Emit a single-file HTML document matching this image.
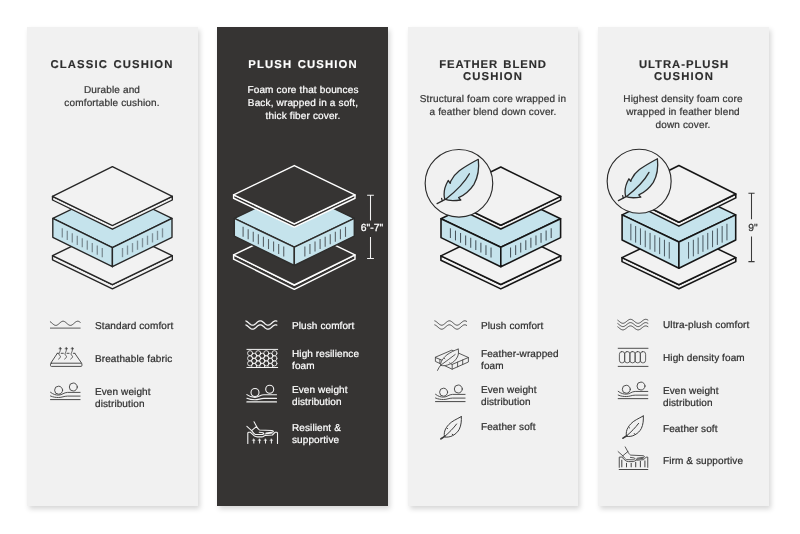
<!DOCTYPE html>
<html><head><meta charset="utf-8"><title>Cushion comparison</title>
<style>
html,body{margin:0;padding:0;background:#fff;}
body{width:800px;height:534px;position:relative;overflow:hidden;text-rendering:geometricPrecision;font-family:"Liberation Sans",sans-serif;}
.panel{position:absolute;box-shadow:2px 3px 5px rgba(0,0,0,0.16);}
.t{position:absolute;white-space:nowrap;font-size:11.3px;font-weight:bold;letter-spacing:1.15px;word-spacing:1.1px;line-height:12.4px;color:#2d2d2d;text-align:center;transform:translateX(-50%);}
.d{position:absolute;white-space:nowrap;font-size:10px;letter-spacing:0.15px;line-height:12.8px;color:#363636;text-align:center;transform:translateX(-50%);}
.f{position:absolute;white-space:nowrap;font-size:10px;letter-spacing:0.1px;line-height:12px;color:#2e2e2e;}
.w{color:#fff !important;}
.t,.d,.f{will-change:transform;}
.d,.f{-webkit-text-stroke:0.22px currentColor;}
.t{-webkit-text-stroke:0.15px currentColor;}
svg{position:absolute;left:0;top:0;}

</style></head><body>
<div class="panel" style="left:27.3px;top:27.3px;width:170.8px;height:478.7px;background:#f1f1f1"></div>
<div class="panel" style="left:217.3px;top:27.3px;width:170.7px;height:478.9px;background:#363433"></div>
<div class="panel" style="left:407.6px;top:27.3px;width:170.6px;height:478.7px;background:#f1f1f1"></div>
<div class="panel" style="left:597.6px;top:27.3px;width:171.4px;height:478.7px;background:#f1f1f1"></div>
<svg width="800" height="534" viewBox="0 0 800 534" fill="none" stroke-linejoin="round" stroke-linecap="round">
<path d="M52.50000000000001 255.7 L52.50000000000001 259.8 L112.4 288.8 L172.3 259.8 L172.3 255.7 L112.4 284.7 Z" fill="#f2f2f2" stroke="#262626" stroke-width="1.38"/>
<path d="M112.4 226.7 L172.3 255.7 L112.4 284.7 L52.50000000000001 255.7 Z" fill="#f2f2f2" stroke="#262626" stroke-width="1.38"/>
<path d="M112.4 189.5 L172.0 218.4 L112.4 247.7 L52.800000000000004 218.4 Z" fill="#c5e3ec" stroke="#262626" stroke-width="1.38"/>
<path d="M52.800000000000004 218.4 L112.4 247.7 L112.4 266.7 L52.800000000000004 237.3 Z" fill="#c5e3ec" stroke="#262626" stroke-width="1.38"/>
<path d="M172.0 218.4 L112.4 247.7 L112.4 266.7 L172.0 237.3 Z" fill="#c5e3ec" stroke="#262626" stroke-width="1.38"/>
<path d="M62.30 228.32 V237.52" stroke="#7f9199" stroke-width="1.35" stroke-linecap="butt"/>
<path d="M162.50 228.32 V237.52" stroke="#7f9199" stroke-width="1.35" stroke-linecap="butt"/>
<path d="M67.30 230.78 V239.98" stroke="#7f9199" stroke-width="1.35" stroke-linecap="butt"/>
<path d="M157.50 230.78 V239.98" stroke="#7f9199" stroke-width="1.35" stroke-linecap="butt"/>
<path d="M72.30 233.24 V242.44" stroke="#7f9199" stroke-width="1.35" stroke-linecap="butt"/>
<path d="M152.50 233.24 V242.44" stroke="#7f9199" stroke-width="1.35" stroke-linecap="butt"/>
<path d="M77.30 235.69 V244.89" stroke="#7f9199" stroke-width="1.35" stroke-linecap="butt"/>
<path d="M147.50 235.69 V244.89" stroke="#7f9199" stroke-width="1.35" stroke-linecap="butt"/>
<path d="M82.30 238.15 V247.35" stroke="#7f9199" stroke-width="1.35" stroke-linecap="butt"/>
<path d="M142.50 238.15 V247.35" stroke="#7f9199" stroke-width="1.35" stroke-linecap="butt"/>
<path d="M87.30 240.61 V249.81" stroke="#7f9199" stroke-width="1.35" stroke-linecap="butt"/>
<path d="M137.50 240.61 V249.81" stroke="#7f9199" stroke-width="1.35" stroke-linecap="butt"/>
<path d="M92.30 243.07 V252.27" stroke="#7f9199" stroke-width="1.35" stroke-linecap="butt"/>
<path d="M132.50 243.07 V252.27" stroke="#7f9199" stroke-width="1.35" stroke-linecap="butt"/>
<path d="M97.30 245.53 V254.73" stroke="#7f9199" stroke-width="1.35" stroke-linecap="butt"/>
<path d="M127.50 245.53 V254.73" stroke="#7f9199" stroke-width="1.35" stroke-linecap="butt"/>
<path d="M102.30 247.98 V257.18" stroke="#7f9199" stroke-width="1.35" stroke-linecap="butt"/>
<path d="M122.50 247.98 V257.18" stroke="#7f9199" stroke-width="1.35" stroke-linecap="butt"/>
<path d="M52.50000000000001 196.3 L52.50000000000001 200.0 L112.4 229.2 L172.3 200.0 L172.3 196.3 L112.4 225.5 Z" fill="#f2f2f2" stroke="#262626" stroke-width="1.38"/>
<path d="M112.4 166.7 L172.3 196.3 L112.4 225.5 L52.50000000000001 196.3 Z" fill="#f2f2f2" stroke="#262626" stroke-width="1.38"/>
<path d="M233.60000000000002 254.9 L233.60000000000002 259.2 L294.3 289.3 L355.0 259.2 L355.0 254.9 L294.3 285.0 Z" fill="#363433" stroke="#ffffff" stroke-width="1.45"/>
<path d="M294.3 225.6 L355.0 254.9 L294.3 285.0 L233.60000000000002 254.9 Z" fill="#363433" stroke="#ffffff" stroke-width="1.45"/>
<path d="M294.3 189.6 L354.3 218.4 L294.3 247.2 L234.3 218.4 Z" fill="#c5e3ec" stroke="#2e2d2c" stroke-width="1.45"/>
<path d="M234.3 218.4 L294.3 247.2 L294.3 265.5 L234.3 236.1 Z" fill="#c5e3ec" stroke="#2e2d2c" stroke-width="1.45"/>
<path d="M354.3 218.4 L294.3 247.2 L294.3 265.5 L354.3 236.1 Z" fill="#c5e3ec" stroke="#2e2d2c" stroke-width="1.45"/>
<path d="M243.10 226.87 V236.87" stroke="#596267" stroke-width="1.1" stroke-linecap="butt"/>
<path d="M345.50 226.87 V236.87" stroke="#596267" stroke-width="1.1" stroke-linecap="butt"/>
<path d="M248.18 229.31 V239.31" stroke="#596267" stroke-width="1.1" stroke-linecap="butt"/>
<path d="M340.42 229.31 V239.31" stroke="#596267" stroke-width="1.1" stroke-linecap="butt"/>
<path d="M253.26 231.75 V241.75" stroke="#596267" stroke-width="1.1" stroke-linecap="butt"/>
<path d="M335.34 231.75 V241.75" stroke="#596267" stroke-width="1.1" stroke-linecap="butt"/>
<path d="M258.34 234.19 V244.19" stroke="#596267" stroke-width="1.1" stroke-linecap="butt"/>
<path d="M330.26 234.19 V244.19" stroke="#596267" stroke-width="1.1" stroke-linecap="butt"/>
<path d="M263.42 236.63 V246.63" stroke="#596267" stroke-width="1.1" stroke-linecap="butt"/>
<path d="M325.18 236.63 V246.63" stroke="#596267" stroke-width="1.1" stroke-linecap="butt"/>
<path d="M268.50 239.07 V249.07" stroke="#596267" stroke-width="1.1" stroke-linecap="butt"/>
<path d="M320.10 239.07 V249.07" stroke="#596267" stroke-width="1.1" stroke-linecap="butt"/>
<path d="M273.58 241.50 V251.50" stroke="#596267" stroke-width="1.1" stroke-linecap="butt"/>
<path d="M315.02 241.50 V251.50" stroke="#596267" stroke-width="1.1" stroke-linecap="butt"/>
<path d="M278.66 243.94 V253.94" stroke="#596267" stroke-width="1.1" stroke-linecap="butt"/>
<path d="M309.94 243.94 V253.94" stroke="#596267" stroke-width="1.1" stroke-linecap="butt"/>
<path d="M283.74 246.38 V256.38" stroke="#596267" stroke-width="1.1" stroke-linecap="butt"/>
<path d="M304.86 246.38 V256.38" stroke="#596267" stroke-width="1.1" stroke-linecap="butt"/>
<path d="M233.60000000000002 194.85 L233.60000000000002 198.25 L294.3 227.20000000000002 L355.0 198.25 L355.0 194.85 L294.3 223.8 Z" fill="#363433" stroke="#ffffff" stroke-width="1.45"/>
<path d="M294.3 165.6 L355.0 194.85 L294.3 223.8 L233.60000000000002 194.85 Z" fill="#363433" stroke="#ffffff" stroke-width="1.45"/>
<path d="M440.90000000000003 255.85 L440.90000000000003 260.25 L500.8 288.9 L560.7 260.25 L560.7 255.85 L500.8 284.5 Z" fill="#f2f2f2" stroke="#161616" stroke-width="1.58"/>
<path d="M500.8 226.7 L560.7 255.85 L500.8 284.5 L440.90000000000003 255.85 Z" fill="#f2f2f2" stroke="#161616" stroke-width="1.58"/>
<path d="M500.8 189.9 L560.6 218.7 L500.8 247.3 L441.0 218.7 Z" fill="#c5e3ec" stroke="#161616" stroke-width="1.58"/>
<path d="M441.0 218.7 L500.8 247.3 L500.8 266.8 L441.0 237.6 Z" fill="#c5e3ec" stroke="#161616" stroke-width="1.58"/>
<path d="M560.6 218.7 L500.8 247.3 L500.8 266.8 L560.6 237.6 Z" fill="#c5e3ec" stroke="#161616" stroke-width="1.58"/>
<path d="M450.40 228.15 V237.95" stroke="#46535b" stroke-width="1.05" stroke-linecap="butt"/>
<path d="M551.20 228.15 V237.95" stroke="#46535b" stroke-width="1.05" stroke-linecap="butt"/>
<path d="M455.48 230.58 V240.38" stroke="#46535b" stroke-width="1.05" stroke-linecap="butt"/>
<path d="M546.12 230.58 V240.38" stroke="#46535b" stroke-width="1.05" stroke-linecap="butt"/>
<path d="M460.56 233.00 V242.80" stroke="#46535b" stroke-width="1.05" stroke-linecap="butt"/>
<path d="M541.04 233.00 V242.80" stroke="#46535b" stroke-width="1.05" stroke-linecap="butt"/>
<path d="M465.64 235.43 V245.23" stroke="#46535b" stroke-width="1.05" stroke-linecap="butt"/>
<path d="M535.96 235.43 V245.23" stroke="#46535b" stroke-width="1.05" stroke-linecap="butt"/>
<path d="M470.72 237.86 V247.66" stroke="#46535b" stroke-width="1.05" stroke-linecap="butt"/>
<path d="M530.88 237.86 V247.66" stroke="#46535b" stroke-width="1.05" stroke-linecap="butt"/>
<path d="M475.80 240.29 V250.09" stroke="#46535b" stroke-width="1.05" stroke-linecap="butt"/>
<path d="M525.80 240.29 V250.09" stroke="#46535b" stroke-width="1.05" stroke-linecap="butt"/>
<path d="M480.88 242.72 V252.52" stroke="#46535b" stroke-width="1.05" stroke-linecap="butt"/>
<path d="M520.72 242.72 V252.52" stroke="#46535b" stroke-width="1.05" stroke-linecap="butt"/>
<path d="M485.96 245.15 V254.95" stroke="#46535b" stroke-width="1.05" stroke-linecap="butt"/>
<path d="M515.64 245.15 V254.95" stroke="#46535b" stroke-width="1.05" stroke-linecap="butt"/>
<path d="M491.04 247.58 V257.38" stroke="#46535b" stroke-width="1.05" stroke-linecap="butt"/>
<path d="M510.56 247.58 V257.38" stroke="#46535b" stroke-width="1.05" stroke-linecap="butt"/>
<path d="M440.90000000000003 196.4 L440.90000000000003 200.1 L500.8 229.0 L560.7 200.1 L560.7 196.4 L500.8 225.3 Z" fill="#f2f2f2" stroke="#161616" stroke-width="1.58"/>
<path d="M500.8 167.0 L560.7 196.4 L500.8 225.3 L440.90000000000003 196.4 Z" fill="#f2f2f2" stroke="#161616" stroke-width="1.58"/>
<path d="M622.0 257.6 L622.0 261.6 L678.9 288.8 L735.8 261.6 L735.8 257.6 L678.9 284.8 Z" fill="#f2f2f2" stroke="#161616" stroke-width="1.58"/>
<path d="M678.9 230.4 L735.8 257.6 L678.9 284.8 L622.0 257.6 Z" fill="#f2f2f2" stroke="#161616" stroke-width="1.58"/>
<path d="M678.9 187.5 L735.6999999999999 214.9 L678.9 242.0 L622.1 214.9 Z" fill="#c5e3ec" stroke="#161616" stroke-width="1.58"/>
<path d="M622.1 214.9 L678.9 242.0 L678.9 268.3 L622.1 240.05 Z" fill="#c5e3ec" stroke="#161616" stroke-width="1.58"/>
<path d="M735.6999999999999 214.9 L678.9 242.0 L678.9 268.3 L735.6999999999999 240.05 Z" fill="#c5e3ec" stroke="#161616" stroke-width="1.58"/>
<path d="M630.85 223.75 V240.35" stroke="#4a5860" stroke-width="1.0" stroke-linecap="butt"/>
<path d="M726.95 223.75 V240.35" stroke="#4a5860" stroke-width="1.0" stroke-linecap="butt"/>
<path d="M635.65 226.04 V242.64" stroke="#4a5860" stroke-width="1.0" stroke-linecap="butt"/>
<path d="M722.15 226.04 V242.64" stroke="#4a5860" stroke-width="1.0" stroke-linecap="butt"/>
<path d="M640.45 228.33 V244.93" stroke="#4a5860" stroke-width="1.0" stroke-linecap="butt"/>
<path d="M717.35 228.33 V244.93" stroke="#4a5860" stroke-width="1.0" stroke-linecap="butt"/>
<path d="M645.25 230.62 V247.22" stroke="#4a5860" stroke-width="1.0" stroke-linecap="butt"/>
<path d="M712.55 230.62 V247.22" stroke="#4a5860" stroke-width="1.0" stroke-linecap="butt"/>
<path d="M650.05 232.91 V249.51" stroke="#4a5860" stroke-width="1.0" stroke-linecap="butt"/>
<path d="M707.75 232.91 V249.51" stroke="#4a5860" stroke-width="1.0" stroke-linecap="butt"/>
<path d="M654.85 235.20 V251.80" stroke="#4a5860" stroke-width="1.0" stroke-linecap="butt"/>
<path d="M702.95 235.20 V251.80" stroke="#4a5860" stroke-width="1.0" stroke-linecap="butt"/>
<path d="M659.65 237.49 V254.09" stroke="#4a5860" stroke-width="1.0" stroke-linecap="butt"/>
<path d="M698.15 237.49 V254.09" stroke="#4a5860" stroke-width="1.0" stroke-linecap="butt"/>
<path d="M664.45 239.78 V256.38" stroke="#4a5860" stroke-width="1.0" stroke-linecap="butt"/>
<path d="M693.35 239.78 V256.38" stroke="#4a5860" stroke-width="1.0" stroke-linecap="butt"/>
<path d="M669.25 242.07 V258.67" stroke="#4a5860" stroke-width="1.0" stroke-linecap="butt"/>
<path d="M688.55 242.07 V258.67" stroke="#4a5860" stroke-width="1.0" stroke-linecap="butt"/>
<path d="M622.0 194.0 L622.0 197.9 L678.9 226.1 L735.8 197.9 L735.8 194.0 L678.9 222.2 Z" fill="#f2f2f2" stroke="#161616" stroke-width="1.58"/>
<path d="M678.9 165.5 L735.8 194.0 L678.9 222.2 L622.0 194.0 Z" fill="#f2f2f2" stroke="#161616" stroke-width="1.58"/>
<circle cx="458.95" cy="183.3" r="33.8" fill="#f1f1f1" stroke="#2b2b2b" stroke-width="1.15"/>
<path d="M478.30 159.30 C474.00 161.60 466.00 166.00 459.30 170.70 C455.50 173.60 452.50 177.50 450.70 181.30 L450.20 183.30 L448.20 180.50 C445.60 185.00 444.00 190.50 444.10 194.50 C444.10 196.00 444.30 197.50 444.80 199.20 C448.00 200.80 453.00 201.00 460.80 200.00 L458.60 197.60 C464.50 195.00 470.50 189.50 474.00 184.30 C477.50 178.00 479.30 168.00 478.30 159.30 Z" fill="#c5e3ec" stroke="#2b2b2b" stroke-width="1.3"/>
<path d="M469.40 173.70 C466.00 180.00 458.00 189.50 445.70 199.20 L437.10 203.60 M441.60 198.30 L442.30 201.20" stroke="#2b2b2b" stroke-width="1.3"/>
<circle cx="639.15" cy="181.25" r="32.0" fill="#f1f1f1" stroke="#2b2b2b" stroke-width="1.15"/>
<path d="M657.40 158.70 C653.33 160.88 645.76 165.04 639.43 169.48 C635.83 172.23 632.99 175.92 631.29 179.51 L630.82 181.40 L628.93 178.76 C626.47 183.01 624.95 188.22 625.05 192.00 C625.05 193.42 625.24 194.84 625.71 196.45 C628.74 197.96 633.47 198.15 640.85 197.20 L638.76 194.93 C644.35 192.47 650.02 187.27 653.33 182.35 C656.64 176.39 658.35 166.93 657.40 158.70 Z" fill="#c5e3ec" stroke="#2b2b2b" stroke-width="1.3"/>
<path d="M648.98 172.32 C645.76 178.28 638.20 187.27 626.56 196.45 L618.42 200.61 M622.68 195.59 L623.34 198.34" stroke="#2b2b2b" stroke-width="1.3"/>
<path d="M367.1 195.2 H373.9 M367.1 258.4 H373.9 M370.5 195.2 V220.4 M370.5 237.0 V258.4" stroke="#f2f2f2" stroke-width="1.05" stroke-linecap="butt"/>
<path d="M748.4 193.2 H754.6 M748.4 261.6 H754.6 M751.5 193.2 V219.2 M751.5 236.5 V261.6" stroke="#3a3a3a" stroke-width="1.05" stroke-linecap="butt"/>
<defs><clipPath id="hc"><rect x="246.9" y="349.9" width="30.8" height="17.1"/></clipPath></defs>
<path d="M50.30 321.80 L51.05 322.34 L51.79 322.98 L52.54 323.65 L53.29 324.29 L54.04 324.82 L54.78 325.20 L55.53 325.39 L56.28 325.36 L57.03 325.11 L57.77 324.69 L58.52 324.12 L59.27 323.46 L60.02 322.79 L60.77 322.17 L61.51 321.67 L62.26 321.34 L63.01 321.20 L63.75 321.28 L64.50 321.57 L65.25 322.04 L66.00 322.63 L66.75 323.30 L67.49 323.96 L68.24 324.56 L68.99 325.02 L69.73 325.31 L70.48 325.40 L71.23 325.27 L71.98 324.93 L72.72 324.43 L73.47 323.82 L74.22 323.15 L74.97 322.49 L75.72 321.92 L76.46 321.49 L77.21 321.25 L77.96 321.21 L78.71 321.39 L79.45 321.77 L80.20 322.30" stroke="#474747" stroke-width="0.95"/>
<path d="M50.4 328.1 H80.2" stroke="#474747" stroke-width="0.9"/>
<path d="M245.90 320.98 L246.67 321.35 L247.44 321.88 L248.22 322.53 L248.99 323.22 L249.76 323.88 L250.53 324.46 L251.31 324.90 L252.08 325.15 L252.85 325.19 L253.62 325.01 L254.40 324.63 L255.17 324.10 L255.94 323.45 L256.72 322.76 L257.49 322.10 L258.26 321.52 L259.03 321.09 L259.81 320.84 L260.58 320.81 L261.35 321.00 L262.12 321.38 L262.89 321.92 L263.67 322.57 L264.44 323.26 L265.21 323.92 L265.99 324.50 L266.76 324.92 L267.53 325.16 L268.30 325.18 L269.07 324.99 L269.85 324.60 L270.62 324.06 L271.39 323.41 L272.17 322.72 L272.94 322.06 L273.71 321.49 L274.48 321.07 L275.25 320.84 L276.03 320.82 L276.80 321.02" stroke="#f4f4f4" stroke-width="1.3"/>
<path d="M245.90 324.98 L246.67 325.35 L247.44 325.88 L248.22 326.53 L248.99 327.22 L249.76 327.88 L250.53 328.46 L251.31 328.90 L252.08 329.15 L252.85 329.19 L253.62 329.01 L254.40 328.63 L255.17 328.10 L255.94 327.45 L256.72 326.76 L257.49 326.10 L258.26 325.52 L259.03 325.09 L259.81 324.84 L260.58 324.81 L261.35 325.00 L262.12 325.38 L262.89 325.92 L263.67 326.57 L264.44 327.26 L265.21 327.92 L265.99 328.50 L266.76 328.92 L267.53 329.16 L268.30 329.18 L269.07 328.99 L269.85 328.60 L270.62 328.06 L271.39 327.41 L272.17 326.72 L272.94 326.06 L273.71 325.49 L274.48 325.07 L275.25 324.84 L276.03 324.82 L276.80 325.02" stroke="#f4f4f4" stroke-width="1.3"/>
<path d="M434.80 320.92 L435.60 321.25 L436.39 321.77 L437.19 322.41 L437.98 323.12 L438.78 323.81 L439.57 324.42 L440.37 324.88 L441.16 325.15 L441.96 325.19 L442.75 325.00 L443.55 324.61 L444.34 324.04 L445.13 323.37 L445.93 322.66 L446.73 321.99 L447.52 321.42 L448.31 321.01 L449.11 320.82 L449.91 320.85 L450.70 321.10 L451.50 321.56 L452.29 322.16 L453.09 322.85 L453.88 323.56 L454.68 324.21 L455.47 324.73 L456.27 325.07 L457.06 325.20 L457.86 325.10 L458.65 324.77 L459.45 324.27 L460.24 323.63 L461.04 322.92 L461.83 322.23 L462.62 321.61 L463.42 321.14 L464.22 320.86 L465.01 320.81 L465.81 320.98 L466.60 321.37" stroke="#474747" stroke-width="0.95"/>
<path d="M434.80 324.92 L435.60 325.25 L436.39 325.77 L437.19 326.41 L437.98 327.12 L438.78 327.81 L439.57 328.42 L440.37 328.88 L441.16 329.15 L441.96 329.19 L442.75 329.00 L443.55 328.61 L444.34 328.04 L445.13 327.37 L445.93 326.66 L446.73 325.99 L447.52 325.42 L448.31 325.01 L449.11 324.82 L449.91 324.85 L450.70 325.10 L451.50 325.56 L452.29 326.16 L453.09 326.85 L453.88 327.56 L454.68 328.21 L455.47 328.73 L456.27 329.07 L457.06 329.20 L457.86 329.10 L458.65 328.77 L459.45 328.27 L460.24 327.63 L461.04 326.92 L461.83 326.23 L462.62 325.61 L463.42 325.14 L464.22 324.86 L465.01 324.81 L465.81 324.98 L466.60 325.37" stroke="#474747" stroke-width="0.95"/>
<path d="M617.80 320.28 L618.55 320.85 L619.30 321.47 L620.06 322.07 L620.81 322.60 L621.56 323.00 L622.31 323.24 L623.07 323.30 L623.82 323.16 L624.57 322.84 L625.32 322.38 L626.08 321.81 L626.83 321.19 L627.58 320.59 L628.33 320.05 L629.09 319.63 L629.84 319.37 L630.59 319.30 L631.34 319.42 L632.10 319.72 L632.85 320.17 L633.60 320.73 L634.36 321.35 L635.11 321.96 L635.86 322.50 L636.61 322.93 L637.37 323.21 L638.12 323.30 L638.87 323.20 L639.62 322.92 L640.38 322.48 L641.13 321.93 L641.88 321.32 L642.63 320.70 L643.38 320.15 L644.14 319.70 L644.89 319.41 L645.64 319.30 L646.39 319.38 L647.15 319.65 L647.90 320.07" stroke="#474747" stroke-width="0.95"/>
<path d="M617.80 323.58 L618.55 324.15 L619.30 324.77 L620.06 325.37 L620.81 325.90 L621.56 326.30 L622.31 326.54 L623.07 326.60 L623.82 326.46 L624.57 326.14 L625.32 325.68 L626.08 325.11 L626.83 324.49 L627.58 323.89 L628.33 323.35 L629.09 322.93 L629.84 322.67 L630.59 322.60 L631.34 322.72 L632.10 323.02 L632.85 323.47 L633.60 324.03 L634.36 324.65 L635.11 325.26 L635.86 325.80 L636.61 326.23 L637.37 326.51 L638.12 326.60 L638.87 326.50 L639.62 326.22 L640.38 325.78 L641.13 325.23 L641.88 324.62 L642.63 324.00 L643.38 323.45 L644.14 323.00 L644.89 322.71 L645.64 322.60 L646.39 322.68 L647.15 322.95 L647.90 323.37" stroke="#474747" stroke-width="0.95"/>
<path d="M617.80 326.88 L618.55 327.45 L619.30 328.07 L620.06 328.67 L620.81 329.20 L621.56 329.60 L622.31 329.84 L623.07 329.90 L623.82 329.76 L624.57 329.44 L625.32 328.98 L626.08 328.41 L626.83 327.79 L627.58 327.19 L628.33 326.65 L629.09 326.23 L629.84 325.97 L630.59 325.90 L631.34 326.02 L632.10 326.32 L632.85 326.77 L633.60 327.33 L634.36 327.95 L635.11 328.56 L635.86 329.10 L636.61 329.53 L637.37 329.81 L638.12 329.90 L638.87 329.80 L639.62 329.52 L640.38 329.08 L641.13 328.53 L641.88 327.92 L642.63 327.30 L643.38 326.75 L644.14 326.30 L644.89 326.01 L645.64 325.90 L646.39 325.98 L647.15 326.25 L647.90 326.67" stroke="#474747" stroke-width="0.95"/>
<path d="M57.3 353.3 L50.9 363.0 M74.8 353.3 L81.5 363.0 M57.3 353.3 H58.6 M61.2 353.3 H63.3 M67 353.3 H69.1 M73.3 353.3 H74.8" stroke="#474747" stroke-width="0.95"/>
<rect x="50.5" y="363.2" width="31.4" height="3.2" rx="0.9" stroke="#474747" stroke-width="0.95"/>
<path d="M58.6 359 C59.8 358 60.9 357.3 60.4 356.4 C59.8 355.3 58.6 354.6 59.1 353.4 C59.5 352.2 60.4 351.2 60.4 349" stroke="#474747" stroke-width="0.9"/>
<path d="M60.4 347.3 L61.65 349.0 H59.15 Z" fill="#474747" stroke="#474747" stroke-width="0.4"/>
<path d="M64.65 359 C65.85000000000001 358 66.95 357.3 66.45 356.4 C65.85000000000001 355.3 64.65 354.6 65.15 353.4 C65.55 352.2 66.45 351.2 66.45 349" stroke="#474747" stroke-width="0.9"/>
<path d="M66.45 347.3 L67.7 349.0 H65.2 Z" fill="#474747" stroke="#474747" stroke-width="0.4"/>
<path d="M70.7 359 C71.9 358 73.0 357.3 72.5 356.4 C71.9 355.3 70.7 354.6 71.2 353.4 C71.6 352.2 72.5 351.2 72.5 349" stroke="#474747" stroke-width="0.9"/>
<path d="M72.5 347.3 L73.75 349.0 H71.25 Z" fill="#474747" stroke="#474747" stroke-width="0.4"/>
<circle cx="58.60" cy="390.20" r="4.0" stroke="#474747" stroke-width="0.95"/>
<circle cx="73.30" cy="387.00" r="4.0" stroke="#474747" stroke-width="0.95"/>
<path d="M50.50 392.30 C53.50 394.60 56.00 395.10 58.60 395.10 C62.00 395.10 64.00 392.40 67.50 392.40 H80.10" stroke="#474747" stroke-width="0.95"/>
<path d="M50.50 396.00 C53.50 397.30 56.00 397.50 58.60 397.50 C62.00 397.50 64.00 396.10 67.50 396.10 H80.10" stroke="#474747" stroke-width="0.95"/>
<path d="M50.50 399.60 H80.10" stroke="#474747" stroke-width="1.0"/>
<circle cx="255.00" cy="392.50" r="4.0" stroke="#f4f4f4" stroke-width="1.1"/>
<circle cx="269.70" cy="389.30" r="4.0" stroke="#f4f4f4" stroke-width="1.1"/>
<path d="M246.90 394.60 C249.90 396.90 252.40 397.40 255.00 397.40 C258.40 397.40 260.40 394.70 263.90 394.70 H276.50" stroke="#f4f4f4" stroke-width="1.1"/>
<path d="M246.90 398.30 C249.90 399.60 252.40 399.80 255.00 399.80 C258.40 399.80 260.40 398.40 263.90 398.40 H276.50" stroke="#f4f4f4" stroke-width="1.1"/>
<path d="M246.90 401.90 H276.50" stroke="#f4f4f4" stroke-width="1.1500000000000001"/>
<circle cx="443.60" cy="392.20" r="4.0" stroke="#474747" stroke-width="0.95"/>
<circle cx="458.30" cy="389.00" r="4.0" stroke="#474747" stroke-width="0.95"/>
<path d="M435.50 394.30 C438.50 396.60 441.00 397.10 443.60 397.10 C447.00 397.10 449.00 394.40 452.50 394.40 H465.10" stroke="#474747" stroke-width="0.95"/>
<path d="M435.50 398.00 C438.50 399.30 441.00 399.50 443.60 399.50 C447.00 399.50 449.00 398.10 452.50 398.10 H465.10" stroke="#474747" stroke-width="0.95"/>
<path d="M435.50 401.60 H465.10" stroke="#474747" stroke-width="1.0"/>
<circle cx="626.30" cy="389.25" r="4.0" stroke="#474747" stroke-width="0.95"/>
<circle cx="641.00" cy="386.05" r="4.0" stroke="#474747" stroke-width="0.95"/>
<path d="M618.20 391.35 C621.20 393.65 623.70 394.15 626.30 394.15 C629.70 394.15 631.70 391.45 635.20 391.45 H647.80" stroke="#474747" stroke-width="0.95"/>
<path d="M618.20 395.05 C621.20 396.35 623.70 396.55 626.30 396.55 C629.70 396.55 631.70 395.15 635.20 395.15 H647.80" stroke="#474747" stroke-width="0.95"/>
<path d="M618.20 398.65 H647.80" stroke="#474747" stroke-width="1.0"/>
<path d="M246.9 349.4 H277.7 M246.9 367.5 H277.7" stroke="#f4f4f4" stroke-width="1.0"/>
<g clip-path="url(#hc)">
<circle cx="250.1" cy="353.2" r="2.55" stroke="#f4f4f4" stroke-width="0.85"/>
<circle cx="258.2" cy="353.2" r="2.55" stroke="#f4f4f4" stroke-width="0.85"/>
<circle cx="266.3" cy="353.2" r="2.55" stroke="#f4f4f4" stroke-width="0.85"/>
<circle cx="274.5" cy="353.2" r="2.55" stroke="#f4f4f4" stroke-width="0.85"/>
<circle cx="254.15" cy="355.75" r="2.55" stroke="#f4f4f4" stroke-width="0.85"/>
<circle cx="262.25" cy="355.75" r="2.55" stroke="#f4f4f4" stroke-width="0.85"/>
<circle cx="270.4" cy="355.75" r="2.55" stroke="#f4f4f4" stroke-width="0.85"/>
<circle cx="250.1" cy="358.3" r="2.55" stroke="#f4f4f4" stroke-width="0.85"/>
<circle cx="258.2" cy="358.3" r="2.55" stroke="#f4f4f4" stroke-width="0.85"/>
<circle cx="266.3" cy="358.3" r="2.55" stroke="#f4f4f4" stroke-width="0.85"/>
<circle cx="274.5" cy="358.3" r="2.55" stroke="#f4f4f4" stroke-width="0.85"/>
<circle cx="254.15" cy="360.85" r="2.55" stroke="#f4f4f4" stroke-width="0.85"/>
<circle cx="262.25" cy="360.85" r="2.55" stroke="#f4f4f4" stroke-width="0.85"/>
<circle cx="270.4" cy="360.85" r="2.55" stroke="#f4f4f4" stroke-width="0.85"/>
<circle cx="250.1" cy="363.4" r="2.55" stroke="#f4f4f4" stroke-width="0.85"/>
<circle cx="258.2" cy="363.4" r="2.55" stroke="#f4f4f4" stroke-width="0.85"/>
<circle cx="266.3" cy="363.4" r="2.55" stroke="#f4f4f4" stroke-width="0.85"/>
<circle cx="274.5" cy="363.4" r="2.55" stroke="#f4f4f4" stroke-width="0.85"/>
<circle cx="254.15" cy="365.95" r="2.55" stroke="#f4f4f4" stroke-width="0.85"/>
<circle cx="262.25" cy="365.95" r="2.55" stroke="#f4f4f4" stroke-width="0.85"/>
<circle cx="270.4" cy="365.95" r="2.55" stroke="#f4f4f4" stroke-width="0.85"/>
</g>
<path d="M618.2 348.3 H648 M618.2 366.4 H648" stroke="#474747" stroke-width="0.95"/>
<rect x="619.40" y="351.6" width="5.3" height="11.2" rx="2.3" ry="2.6" stroke="#474747" stroke-width="0.85"/>
<rect x="624.63" y="351.6" width="5.3" height="11.2" rx="2.3" ry="2.6" stroke="#474747" stroke-width="0.85"/>
<rect x="629.86" y="351.6" width="5.3" height="11.2" rx="2.3" ry="2.6" stroke="#474747" stroke-width="0.85"/>
<rect x="635.09" y="351.6" width="5.3" height="11.2" rx="2.3" ry="2.6" stroke="#474747" stroke-width="0.85"/>
<rect x="640.32" y="351.6" width="5.3" height="11.2" rx="2.3" ry="2.6" stroke="#474747" stroke-width="0.85"/>
<path d="M461.30 416.60 C456.50 419.20 451.50 421.40 448.80 424.50 C447.80 425.60 447.00 426.60 446.40 427.60 L447.60 428.60 M446.00 428.20 C444.40 430.70 443.90 433.70 444.40 436.50 M461.30 416.60 C461.60 420.70 461.20 425.20 459.30 429.20 C457.90 431.80 455.80 433.90 453.00 435.40 L452.30 434.20 M452.40 435.80 C450.20 436.90 447.60 437.30 445.20 437.10 " stroke="#3c3c3c" stroke-width="1.0"/>
<path d="M456.60 424.00 C453.50 428.20 449.00 432.70 444.60 436.50 L440.80 438.90" stroke="#3c3c3c" stroke-width="1.0"/>
<path d="M444.80 436.40 L441.00 438.80" stroke="#3c3c3c" stroke-width="1.6"/>
<path d="M643.30 415.95 C638.50 418.55 633.50 420.75 630.80 423.85 C629.80 424.95 629.00 425.95 628.40 426.95 L629.60 427.95 M628.00 427.55 C626.40 430.05 625.90 433.05 626.40 435.85 M643.30 415.95 C643.60 420.05 643.20 424.55 641.30 428.55 C639.90 431.15 637.80 433.25 635.00 434.75 L634.30 433.55 M634.40 435.15 C632.20 436.25 629.60 436.65 627.20 436.45 " stroke="#3c3c3c" stroke-width="1.0"/>
<path d="M638.60 423.35 C635.50 427.55 631.00 432.05 626.60 435.85 L622.80 438.25" stroke="#3c3c3c" stroke-width="1.0"/>
<path d="M626.80 435.75 L623.00 438.15" stroke="#3c3c3c" stroke-width="1.6"/>
<path d="M618.10 451.60 L622.80 455.80 M625.20 446.90 L627.80 451.60 M622.80 455.80 L627.80 451.60 M627.80 451.60 C628.50 453.00 629.30 454.40 630.60 455.10 L643.00 455.70 C644.40 455.90 644.90 456.60 644.20 457.20 L637.20 458.20 M622.80 455.80 C624.00 457.50 625.00 458.90 626.60 459.60 L633.20 459.80 C634.70 459.60 635.30 458.60 634.50 458.00 L630.40 457.40 M636.20 459.30 L643.30 458.30" stroke="#474747" stroke-width="0.9"/>
<path d="M619.25 467.35 V457.1 H621.8 L625.2 460.3 C626.2 461.2 627.2 461.6 628.6 461.6 H633.2 C634.6 461.6 635.0 460.4 636.4 460.2 L643.6 459.7 L646.2 457.1 H647.75 V467.35" stroke="#474747" stroke-width="0.95"/>
<path d="M619.25 469.45 H647.75" stroke="#474747" stroke-width="1.1"/>
<path d="M621.8 459.7 V467.3" stroke="#474747" stroke-width="1.05" stroke-linecap="butt"/>
<path d="M626.5 462.9 V467.3" stroke="#474747" stroke-width="1.05" stroke-linecap="butt"/>
<path d="M631.2 462.9 V467.3" stroke="#474747" stroke-width="1.05" stroke-linecap="butt"/>
<path d="M635.7 461.9 V467.3" stroke="#474747" stroke-width="1.05" stroke-linecap="butt"/>
<path d="M640.4 460.9 V467.3" stroke="#474747" stroke-width="1.05" stroke-linecap="butt"/>
<path d="M644.9 460.6 V467.3" stroke="#474747" stroke-width="1.05" stroke-linecap="butt"/>
<path d="M246.90 426.40 L251.60 430.60 M254.00 421.70 L256.60 426.40 M251.60 430.60 L256.60 426.40 M256.60 426.40 C257.30 427.80 258.10 429.20 259.40 429.90 L271.80 430.50 C273.20 430.70 273.70 431.40 273.00 432.00 L266.00 433.00 M251.60 430.60 C252.80 432.30 253.80 433.70 255.40 434.40 L262.00 434.60 C263.50 434.40 264.10 433.40 263.30 432.80 L259.20 432.20 M265.00 434.10 L272.10 433.10" stroke="#f4f4f4" stroke-width="1.05"/>
<path d="M247.8 443.4 V433.2 Q247.8 432.3 248.7 432.3 H250.5 L254.0 435.6 C255.0 436.5 256.0 436.9 257.4 436.9 H262.0 C263.4 436.9 263.8 435.7 265.2 435.5 L272.4 435.0 L275.0 432.3 H276.6 Q277.5 432.3 277.5 433.2 V443.4" stroke="#f4f4f4" stroke-width="1.1"/>
<path d="M253.8 443.5 V440" stroke="#f4f4f4" stroke-width="1.0" stroke-linecap="butt"/>
<path d="M253.8 438.7 L255.15 440.6 H252.45000000000002 Z" fill="#f4f4f4" stroke="#f4f4f4" stroke-width="0.3"/>
<path d="M259.6 443.5 V440" stroke="#f4f4f4" stroke-width="1.0" stroke-linecap="butt"/>
<path d="M259.6 438.7 L260.95000000000005 440.6 H258.25 Z" fill="#f4f4f4" stroke="#f4f4f4" stroke-width="0.3"/>
<path d="M265.5 443.5 V440" stroke="#f4f4f4" stroke-width="1.0" stroke-linecap="butt"/>
<path d="M265.5 438.7 L266.85 440.6 H264.15 Z" fill="#f4f4f4" stroke="#f4f4f4" stroke-width="0.3"/>
<path d="M271.4 443.5 V440" stroke="#f4f4f4" stroke-width="1.0" stroke-linecap="butt"/>
<path d="M271.4 438.7 L272.75 440.6 H270.04999999999995 Z" fill="#f4f4f4" stroke="#f4f4f4" stroke-width="0.3"/>
<path d="M452.2 350.3 L468.4 357.5 L452.2 364.4 L435.4 357.5 Z M435.4 357.5 V361.4 L452.2 369.2 L468.4 362 V357.5 M452.2 364.4 V369.2 M457.6 362.2 V366.8 M462.7 360.0 V364.6 M439.9 359.4 V363.5" stroke="#474747" stroke-width="0.9"/>
<path d="M458.2 349.1 C454.5 350.3 450.5 352.3 447.0 354.8 C445.6 355.9 444.6 356.9 443.8 357.9 L444.8 358.9 M443.4 358.4 C441.4 360.6 440.4 363.0 440.6 365.3 C444.0 366.6 447.4 365.4 450.4 363.8 C453.4 362.2 456.0 360.0 457.4 357.0 C458.6 354.6 458.8 351.8 458.2 349.1 Z" fill="#f1f1f1" stroke="none"/>
<path d="M458.2 349.1 C454.5 350.3 450.5 352.3 447.0 354.8 C445.6 355.9 444.6 356.9 443.8 357.9 L444.8 358.9 M443.4 358.4 C441.4 360.6 440.4 363.0 440.6 365.3 M458.2 349.1 C458.8 351.8 458.6 354.6 457.4 357.0 C456.0 360.0 453.4 362.2 450.4 363.8 L449.8 362.8 M449.6 364.2 C446.6 365.6 443.6 366.2 440.8 365.4 M455.2 354.5 C451.0 358.0 445.5 361.5 440.6 365.3 C439.4 366.8 438.3 368.6 437.5 370.4" stroke="#474747" stroke-width="0.9"/>
</svg>
<div class="t" style="left:112.3px;top:59.00px">CLASSIC CUSHION</div>
<div class="d" style="left:112.3px;top:85.00px">Durable and<br>comfortable cushion.</div>
<div class="t w" style="left:303.3px;top:59.00px">PLUSH CUSHION</div>
<div class="d w" style="left:302.8px;top:85.00px">Foam core that bounces<br>Back, wrapped in a soft,<br>thick fiber cover.</div>
<div class="t" style="left:493.4px;top:59.00px"><span style="letter-spacing:0.93px">FEATHER BLEND</span><br>CUSHION</div>
<div class="d" style="left:492.7px;top:94.00px">Structural foam core wrapped in<br>a feather blend down cover.</div>
<div class="t" style="left:683.9px;top:59.00px"><span style="letter-spacing:0.97px">ULTRA-PLUSH</span><br>CUSHION</div>
<div class="d" style="left:682.8px;top:94.00px">Highest density foam core<br>wrapped in feather blend<br>down cover.</div>
<div class="f" style="left:95.2px;top:321.00px">Standard comfort</div>
<div class="f" style="left:95.2px;top:354.00px">Breathable fabric</div>
<div class="f" style="left:95.2px;top:387.00px">Even weight<br>distribution</div>
<div class="f w" style="left:292.4px;top:321.00px">Plush comfort</div>
<div class="f w" style="left:292.4px;top:349.00px">High resilience<br>foam</div>
<div class="f w" style="left:292.4px;top:385.00px">Even weight<br>distribution</div>
<div class="f w" style="left:292.4px;top:423.00px">Resilient &amp;<br>supportive</div>
<div class="f" style="left:480.6px;top:321.00px">Plush comfort</div>
<div class="f" style="left:480.6px;top:349.00px">Feather-wrapped<br>foam</div>
<div class="f" style="left:480.6px;top:385.00px">Even weight<br>distribution</div>
<div class="f" style="left:480.6px;top:422.00px">Feather soft</div>
<div class="f" style="left:663.0px;top:320.00px">Ultra-plush comfort</div>
<div class="f" style="left:663.0px;top:353.00px">High density foam</div>
<div class="f" style="left:663.0px;top:386.00px">Even weight<br>distribution</div>
<div class="f" style="left:663.0px;top:424.00px">Feather soft</div>
<div class="f" style="left:663.0px;top:456.00px">Firm &amp; supportive</div>
<div class="f w" style="left:371.5px;top:223px;font-size:10.35px;letter-spacing:0;-webkit-text-stroke:0.3px #fff;transform:translateX(-50%)">6&quot;-7&quot;</div>
<div class="f" style="left:753.2px;top:223px;font-size:10.3px;letter-spacing:0;transform:translateX(-50%)">9&quot;</div>
</body></html>
